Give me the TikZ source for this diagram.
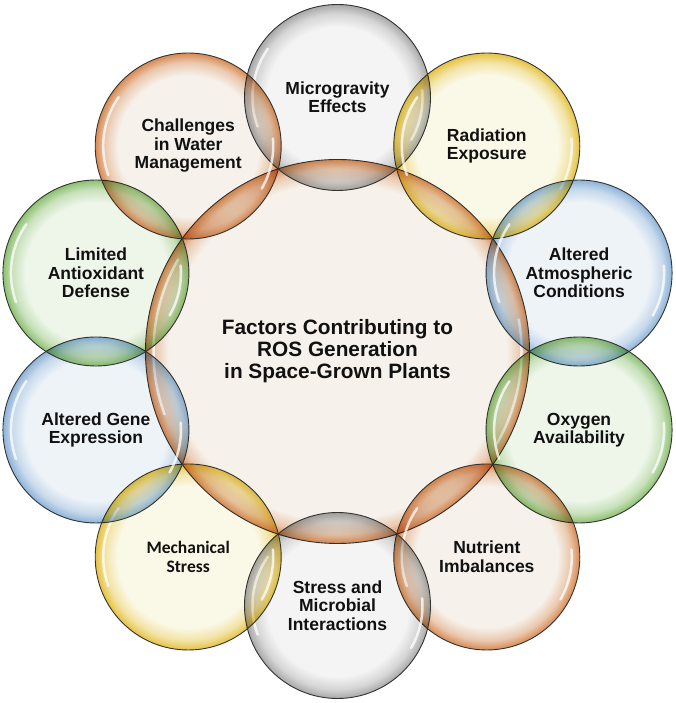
\documentclass[tikz,border=0pt]{standalone}
\usepackage{fontspec}
\newfontfamily\arialf{Liberation Sans}
\newfontfamily\calf{Carlito}
\usetikzlibrary{calc}
\definecolor{oFill}{HTML}{F6F1EA}
\definecolor{oRim}{HTML}{D88A52}
\definecolor{gFill}{HTML}{F4F4F4}
\definecolor{gRim}{HTML}{A8A8A8}
\definecolor{yFill}{HTML}{FAF9E8}
\definecolor{yRim}{HTML}{E6C240}
\definecolor{bFill}{HTML}{EEF3F8}
\definecolor{bRim}{HTML}{8DB3D9}
\definecolor{nFill}{HTML}{EEF6EA}
\definecolor{nRim}{HTML}{8CC070}
\definecolor{txt}{HTML}{111111}
\pgfdeclareradialshading{bubO}{\pgfpoint{0bp}{0bp}}{color(0bp)=(oFill); color(19bp)=(oFill); color(22.5bp)=(oRim!40!oFill); color(25bp)=(oRim); color(50bp)=(oRim)}
\pgfdeclareradialshading{bubG}{\pgfpoint{0bp}{0bp}}{color(0bp)=(gFill); color(19bp)=(gFill); color(22.5bp)=(gRim!40!gFill); color(25bp)=(gRim); color(50bp)=(gRim)}
\pgfdeclareradialshading{bubY}{\pgfpoint{0bp}{0bp}}{color(0bp)=(yFill); color(19bp)=(yFill); color(22.5bp)=(yRim!40!yFill); color(25bp)=(yRim); color(50bp)=(yRim)}
\pgfdeclareradialshading{bubB}{\pgfpoint{0bp}{0bp}}{color(0bp)=(bFill); color(19bp)=(bFill); color(22.5bp)=(bRim!40!bFill); color(25bp)=(bRim); color(50bp)=(bRim)}
\pgfdeclareradialshading{bubN}{\pgfpoint{0bp}{0bp}}{color(0bp)=(nFill); color(19bp)=(nFill); color(22.5bp)=(nRim!40!nFill); color(25bp)=(nRim); color(50bp)=(nRim)}
\pgfdeclareradialshading{bubC}{\pgfpoint{0bp}{0bp}}{color(0bp)=(oFill); color(22bp)=(oFill); color(23.8bp)=(oRim!40!oFill); color(25bp)=(oRim); color(50bp)=(oRim)}
\begin{document}
\begin{tikzpicture}[x=1pt,y=1pt,
  lbl/.style={font=\arialf\bfseries\fontsize{17.5}{18.5}\selectfont, align=center, text=txt},
  rimline/.style={draw=black!80, line width=0.9pt},
  gloss/.style={white, line width=2.5pt, line cap=round, opacity=0.75}]
\useasboundingbox (0,0) rectangle (675,703);
\coordinate (C) at (337.5,351.5);
\foreach \i in {0,...,9} \coordinate (c\i) at ($(C)+({90-36*\i}:254)$);
\shade[shading=bubC] (C) circle (192);
\draw[rimline] (C) circle (192);
\draw[gloss] ($(C)+(150:184)$) arc (150:200:184);
\draw[gloss] ($(C)+(-30:184)$) arc (-30:10:184);
\foreach \i/\s in {0/bubG,1/bubY,2/bubB,3/bubN,4/bubO,5/bubG,6/bubY,7/bubB,8/bubN,9/bubO}{
  \shade[shading=\s, blend mode=multiply] (c\i) circle (93);
  \draw[rimline] (c\i) circle (93);
  \draw[gloss] ($(c\i)+(145:85)$) arc (145:200:85);
  \draw[gloss] ($(c\i)+(-30:85)$) arc (-30:5:85);
}
\node[lbl, font=\arialf\bfseries\fontsize{20.8}{22}\selectfont] (center) at (C) {Factors Contributing to\\ROS Generation\\in Space-Grown Plants};
\node[lbl] (t0) at (c0) {Microgravity\\Effects};
\node[lbl] (t1) at (c1) {Radiation\\Exposure};
\node[lbl] (t2) at (c2) {Altered\\Atmospheric\\Conditions};
\node[lbl] (t3) at (c3) {Oxygen\\Availability};
\node[lbl] (t4) at (c4) {Nutrient\\Imbalances};
\node[lbl] (t5) at (c5) {Stress and\\Microbial\\Interactions};
\node[lbl, font=\calf\bfseries\fontsize{17.5}{19}\selectfont] (t6) at (c6) {Mechanical\\Stress};
\node[lbl] (t7) at (c7) {Altered Gene\\Expression};
\node[lbl] (t8) at (c8) {Limited\\Antioxidant\\Defense};
\node[lbl] (t9) at (c9) {Challenges\\in Water\\Management};
\end{tikzpicture}
\end{document}
